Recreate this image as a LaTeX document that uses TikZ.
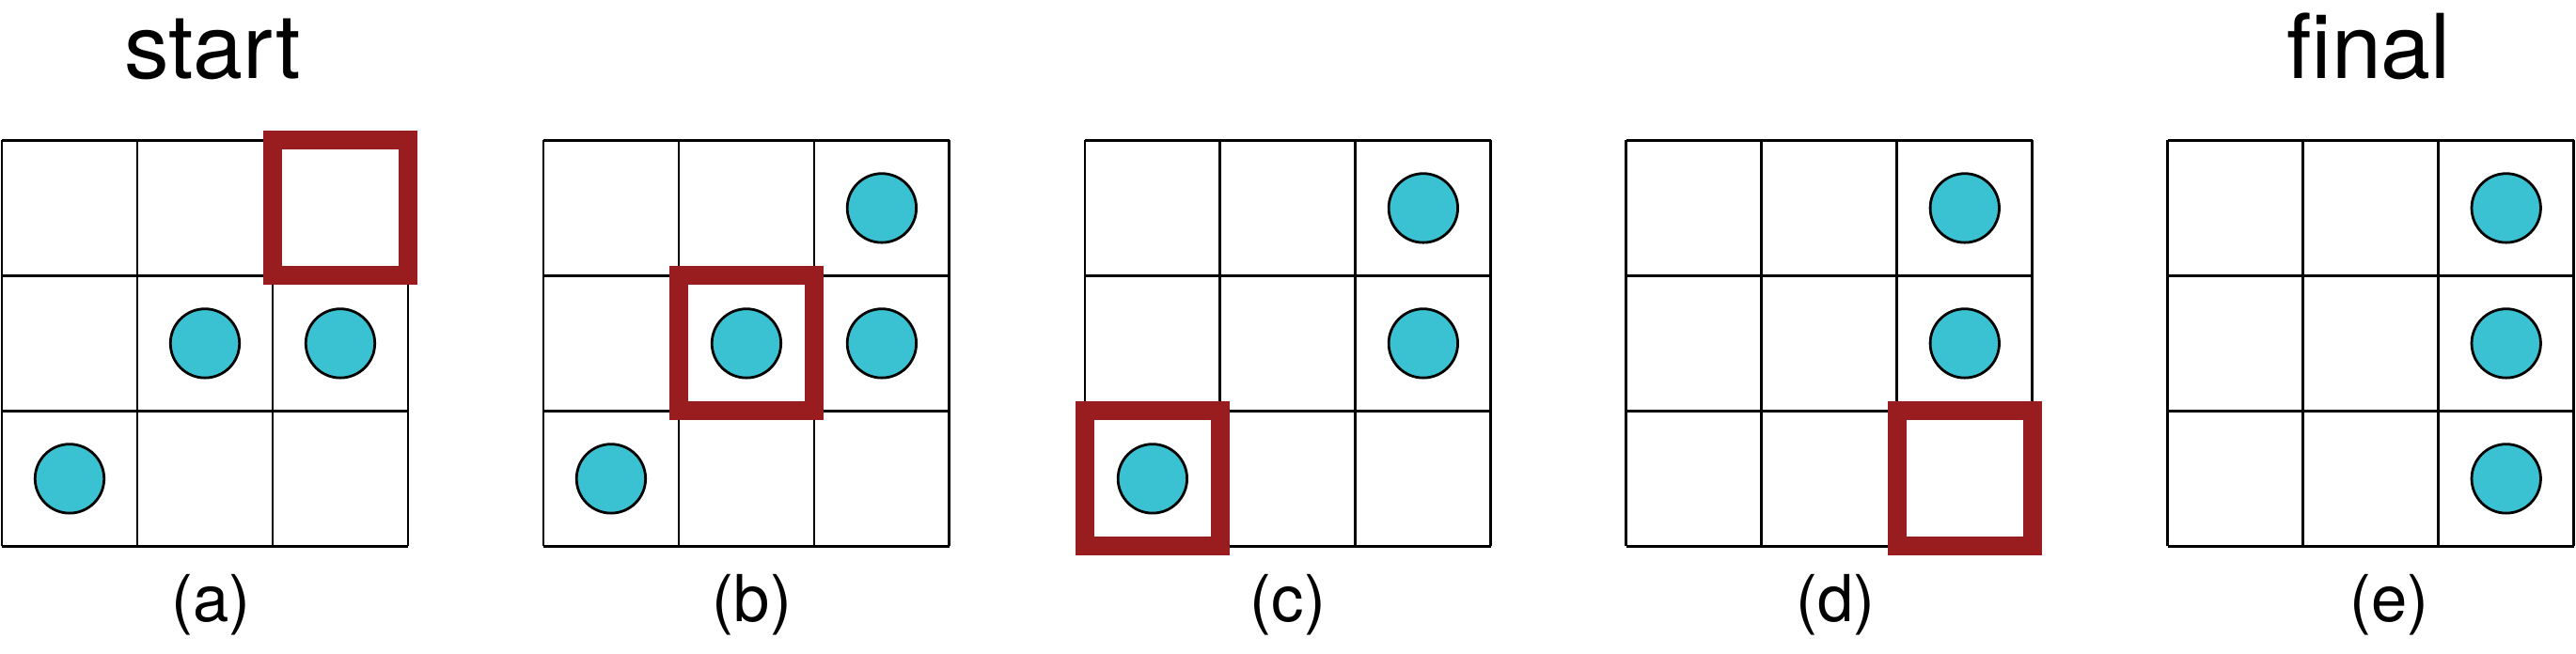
\documentclass[tikz,border=0pt]{standalone}
\usepackage{fontspec}
\setmainfont{TeX Gyre Heros}
\usetikzlibrary{positioning}
\definecolor{tokcyan}{RGB}{58,194,210}
\definecolor{selred}{RGB}{153,28,30}

\begin{document}
\begin{tikzpicture}[
  cell/.style={line width=0.55pt},
  tok/.style={circle, draw=black, line width=0.55pt, fill=tokcyan, minimum size=0.51cm, inner sep=0pt},
  sel/.style={draw=selred, line width=3.95pt},
  sublabel/.style={font=\fontsize{13.6}{16}\selectfont, anchor=base},
  ttl/.style={font=\fontsize{18.8}{22}\selectfont, anchor=base}]
\useasboundingbox (0,0) rectangle (19.03,4.83);

% (a) start
\begin{scope}[xshift=0.014cm, yshift=0.792cm]
\draw[cell] (0,0) grid (3,3);
\draw[sel] (2,2) rectangle (3,3);
\draw(0.5,0.5) node[tok] (a1) {};
\draw(1.5,1.5) node[tok] (a2) {};
\draw(2.5,1.5) node[tok] (a3) {};
\draw(1.555,3.458) node[ttl] (tstart) {start};
\draw(1.545,-0.556) node[sublabel] (la) {(a)};
\end{scope}

% (b)
\begin{scope}[xshift=4.014cm, yshift=0.792cm]
\draw[cell] (0,0) grid (3,3);
\draw[sel] (1,1) rectangle (2,2);
\draw(2.5,2.5) node[tok] (b1) {};
\draw(1.5,1.5) node[tok] (b2) {};
\draw(2.5,1.5) node[tok] (b3) {};
\draw(0.5,0.5) node[tok] (b4) {};
\draw(1.542,-0.556) node[sublabel] (lb) {(b)};
\end{scope}

% (c)
\begin{scope}[xshift=8.014cm, yshift=0.792cm]
\draw[cell] (0,0) grid (3,3);
\draw[sel] (0,0) rectangle (1,1);
\draw(2.5,2.5) node[tok] (c1) {};
\draw(2.5,1.5) node[tok] (c2) {};
\draw(0.5,0.5) node[tok] (c3) {};
\draw(1.500,-0.556) node[sublabel] (lc) {(c)};
\end{scope}

% (d)
\begin{scope}[xshift=12.014cm, yshift=0.792cm]
\draw[cell] (0,0) grid (3,3);
\draw[sel] (2,0) rectangle (3,1);
\draw(2.5,2.5) node[tok] (d1) {};
\draw(2.5,1.5) node[tok] (d2) {};
\draw(1.546,-0.556) node[sublabel] (ld) {(d)};
\end{scope}

% (e) final
\begin{scope}[xshift=16.014cm, yshift=0.792cm]
\draw[cell] (0,0) grid (3,3);
\draw(2.5,2.5) node[tok] (e1) {};
\draw(2.5,1.5) node[tok] (e2) {};
\draw(2.5,0.5) node[tok] (e3) {};
\draw(1.486,3.458) node[ttl] (tfinal) {final};
\draw(1.636,-0.556) node[sublabel] (le) {(e)};
\end{scope}
\end{tikzpicture}
\end{document}
